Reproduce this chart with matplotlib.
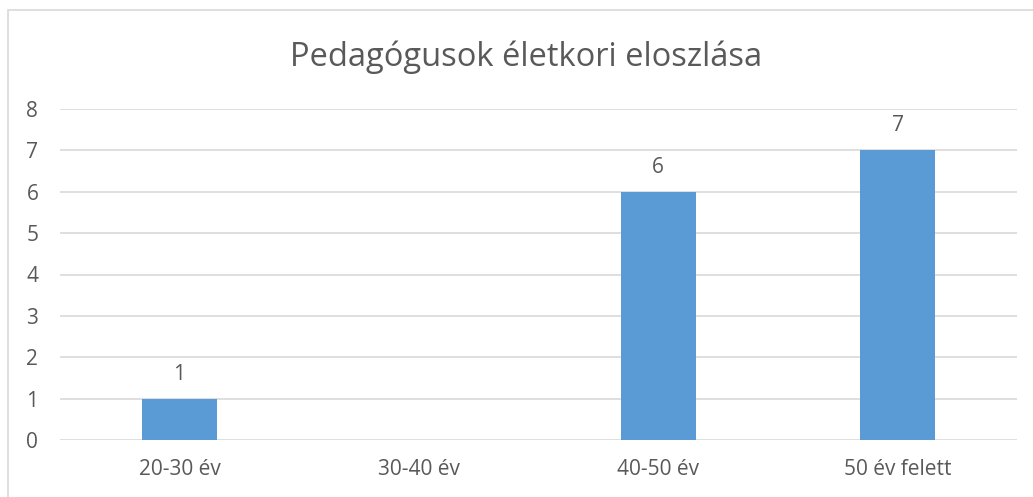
import matplotlib
matplotlib.use("Agg")
import matplotlib.pyplot as plt
from matplotlib.patches import Rectangle

categories = ["20-30 év", "30-40 év", "40-50 év", "50 év felett"]
values = [1, 0, 6, 7]
labels = ["1", "", "6", "7"]
yticks = [0, 1, 2, 3, 4, 5, 6, 7, 8]
title = "Pedagógusok életkori eloszlása"

W, H = 1033, 497
plt.rcParams['font.family'] = ['Open Sans', 'DejaVu Sans']
fig = plt.figure(figsize=(W/100, H/100), dpi=100)
txt = '#595959'

# chart border (left and top visible)
fig.patches.append(Rectangle((7.5/W, -0.1), 1.2, (H-9.5)/H + 0.1, transform=fig.transFigure,
                             fill=False, edgecolor='#d9d9d9', linewidth=1.2))

ax = fig.add_axes([59.8/W, 1-440/H, (1017.2-59.8)/W, (440-109)/H])
x = list(range(len(categories)))
ax.bar(x, values, width=75/239.3, color='#5B9BD5', zorder=3)
ax.set_xlim(-0.5, len(categories)-0.5)
ax.set_ylim(0, 8)
ax.set_yticks(yticks)
ax.set_xticks(x)
ax.set_xticklabels(categories)
ax.tick_params(axis='both', length=0, labelsize=15, colors=txt)
ax.tick_params(axis='x', pad=14)
for lab in ax.get_yticklabels():
    lab.set_horizontalalignment('left')
ax.yaxis.set_tick_params(pad=24)
ax.grid(axis='y', color='#d9d9d9', linewidth=1.2, zorder=0)
for s in ax.spines.values():
    s.set_visible(False)
for xi, v, l in zip(x, values, labels):
    if l:
        ax.annotate(l, (xi, v), xytext=(0, 10), textcoords='offset points',
                    ha='center', va='bottom', fontsize=15, color=txt)
fig.text(526/W, 1-57/H, title, ha='center', va='center', fontsize=23.5, color=txt)
fig.savefig('out.png', dpi=100)
